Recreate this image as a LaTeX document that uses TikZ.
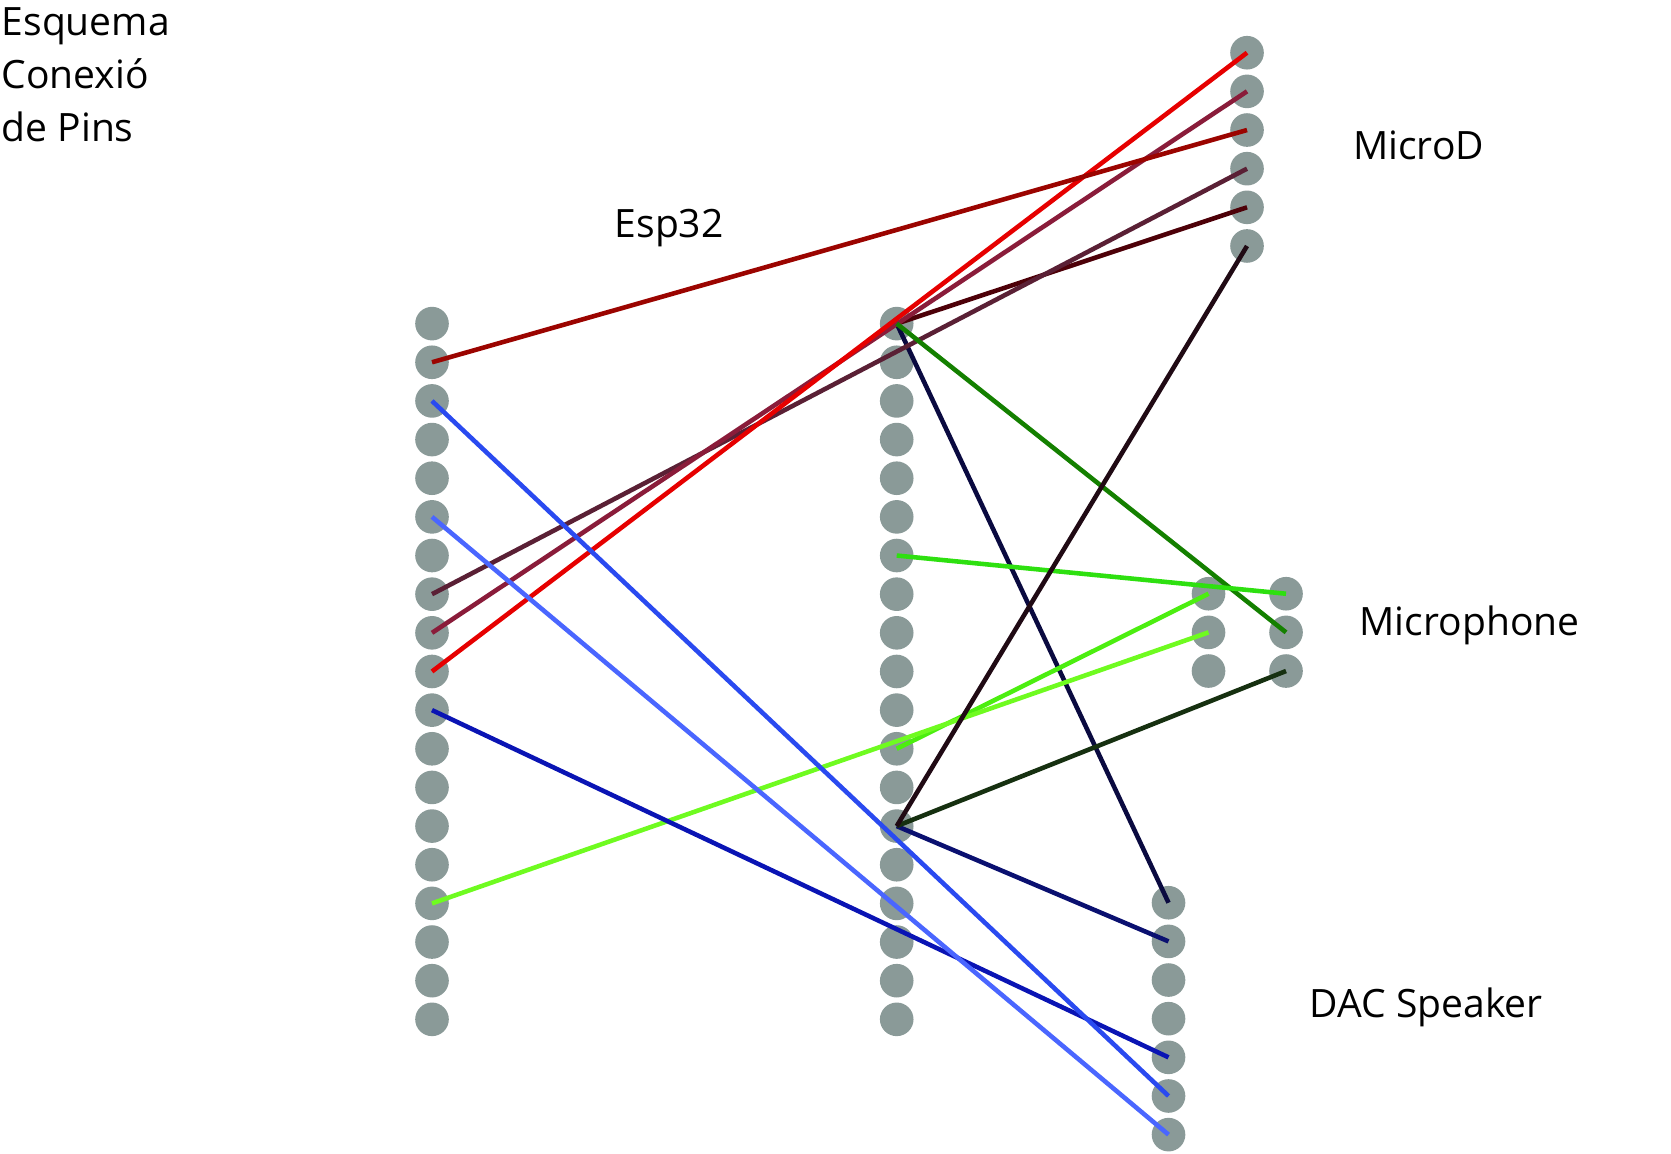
\documentclass[tikz,border=0pt]{standalone}
\usepackage{fontspec}
\setmainfont{Open Sans}
\usepackage{tikz}

\definecolor{pingrey}{HTML}{8A9A98}
\tikzset{
    pin/.style={circle, fill=pingrey, inner sep=0pt, minimum size=0.336cm},
    wire/.style={line width=1.3pt},
    caption/.style={anchor=base west, inner sep=0pt, font=\fontsize{11.1}{15.1}\selectfont}
}

\begin{document}
\begin{tikzpicture}[x=0.01cm, y=-0.01cm]
        \useasboundingbox (0,0) rectangle (1671,1153);

        \foreach \i in {0,...,18} {
            \node [pin] (espa\i) at (432,323.6+38.65*\i) {};
            \node [pin] (espb\i) at (896.7,323.6+38.65*\i) {};
        }
        \foreach \i in {0,...,5}
            \node [pin] (micro\i) at (1247,52.7+38.65*\i) {};
        \foreach \i in {0,...,6}
            \node [pin] (dac\i) at (1168.5,902.7+38.65*\i) {};
        \foreach \i in {0,1,2} {
            \node [pin] (mica\i) at (1208.5,593.7+38.65*\i) {};
            \node [pin] (micb\i) at (1286,593.7+38.65*\i) {};
        }

        \node [caption, align=left, anchor=north west] (title) at (1,7) {Esquema\\Conexió\\de Pins};
        \node [caption] (esplabel) at (614,237.5) {Esp32};
        \node [caption] (microlabel) at (1352.5,159.5) {MicroD};
        \node [caption] (miclabel) at (1359,635) {Microphone};
        \node [caption] (daclabel) at (1309,1017.5) {DAC Speaker};

        \begin{scope}[wire]
            \draw [color={rgb,255:red,10;green,10;blue,64}] (espb0.center) -- (dac0.center);
            \draw [color={rgb,255:red,77;green,0;blue,8}] (espb0.center) -- (micro4.center);
            \draw [color={rgb,255:red,90;green,32;blue,53}] (espa7.center) -- (micro3.center);
            \draw [color={rgb,255:red,138;green,28;blue,58}] (espa8.center) -- (micro1.center);
            \draw [color={rgb,255:red,230;green,0;blue,0}] (espa9.center) -- (micro0.center);
            \draw [color={rgb,255:red,155;green,4;blue,0}] (espa1.center) -- (micro2.center);
            \draw [color={rgb,255:red,20;green,128;blue,0}] (espb0.center) -- (micb1.center);
            \draw [color={rgb,255:red,46;green,224;blue,16}] (espb6.center) -- (micb0.center);
            \draw [color={rgb,255:red,76;green,238;blue,16}] (espb11.center) -- (mica0.center);
            \draw [color={rgb,255:red,111;green,251;blue,32}] (espa15.center) -- (mica1.center);
            \draw [color={rgb,255:red,10;green,16;blue,112}] (espb13.center) -- (dac1.center);
            \draw [color={rgb,255:red,22;green,48;blue,16}] (espb13.center) -- (micb2.center);
            \draw [color={rgb,255:red,32;green,10;blue,20}] (espb13.center) -- (micro5.center);
            \draw [color={rgb,255:red,10;green,20;blue,180}] (espa10.center) -- (dac4.center);
            \draw [color={rgb,255:red,42;green,74;blue,240}] (espa2.center) -- (dac5.center);
            \draw [color={rgb,255:red,74;green,102;blue,255}] (espa5.center) -- (dac6.center);
        \end{scope}
    \end{tikzpicture}
\end{document}
